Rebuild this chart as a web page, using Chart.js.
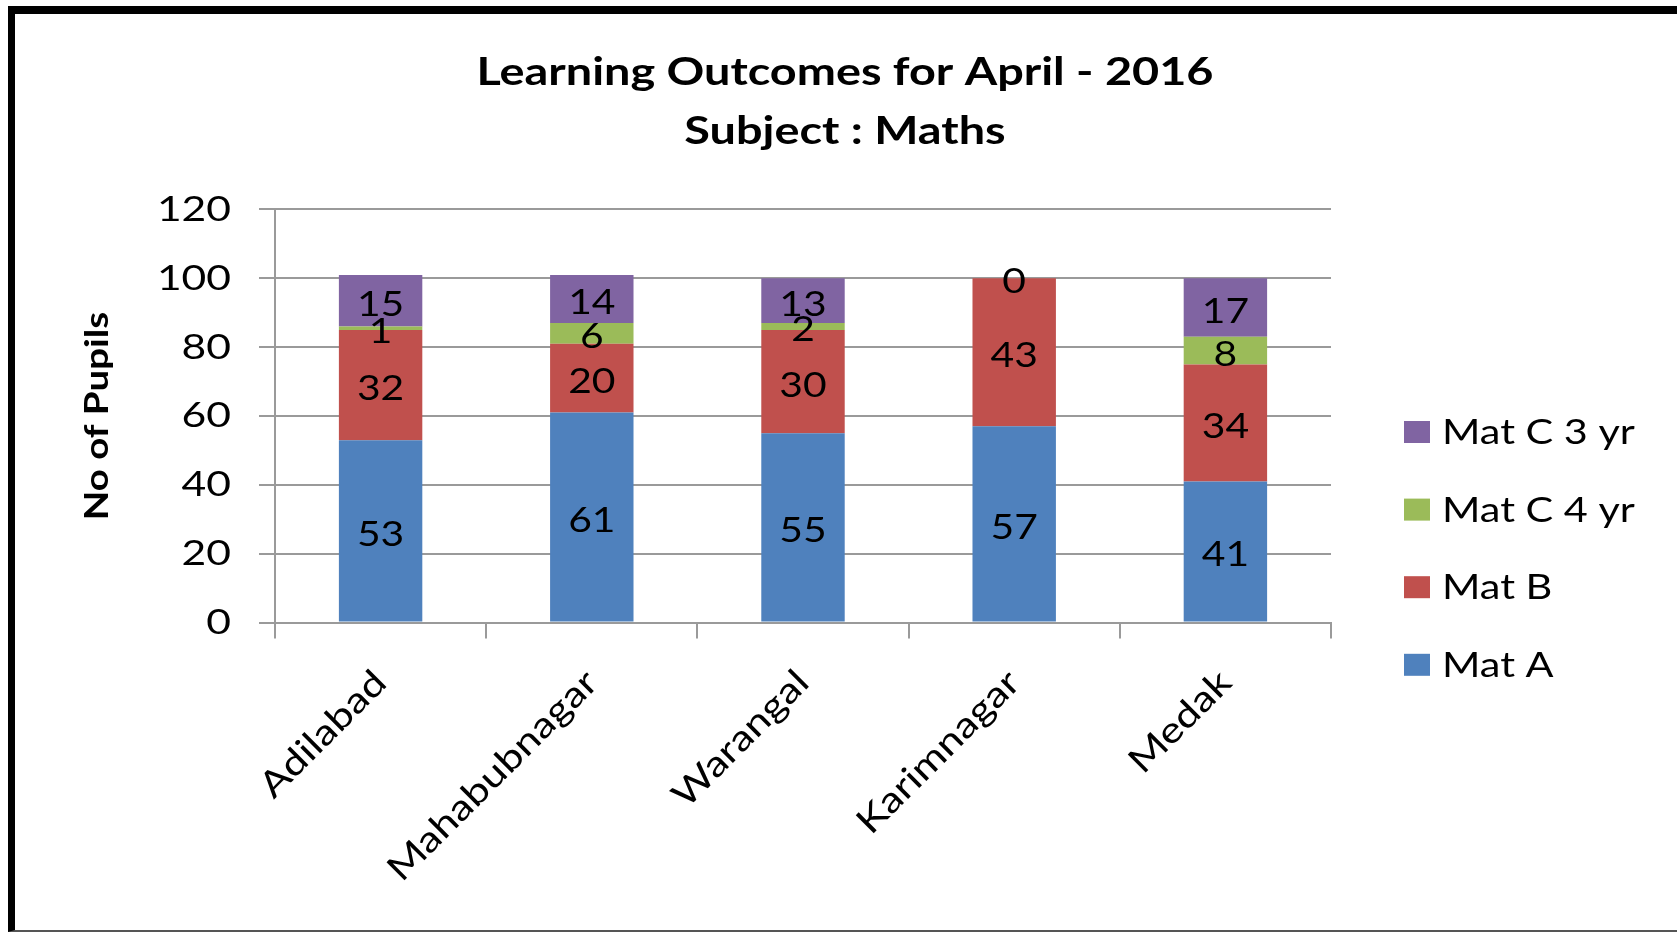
<!DOCTYPE html>
<html><head><meta charset="utf-8">
<script src="https://cdn.jsdelivr.net/npm/chart.js@4.4.1/dist/chart.umd.min.js"></script>
<style>
html,body{margin:0;padding:0;background:#fff;width:1677px;height:935px;overflow:hidden;}
#frame{position:absolute;left:8px;top:6px;width:1720px;height:926px;border-left:7px solid #000;border-top:8px solid #000;border-bottom:2px solid #555;box-sizing:border-box;}
#wrap{position:absolute;left:0;top:0;width:1677px;height:935px;}
</style></head><body>
<div id="frame"></div>
<div id="wrap"><canvas id="c" width="1677" height="935"></canvas></div>
<script>
// ---- data ----
const categories = ['Adilabad', 'Mahabubnagar', 'Warangal', 'Karimnagar', 'Medak'];
const matA  = [53, 61, 55, 57, 41];
const matB  = [32, 20, 30, 43, 34];
const matC4 = [1, 6, 2, null, 8];
const matC3 = [15, 14, 13, 0, 17];
const seriesNames  = ['Mat A', 'Mat B', 'Mat C 4 yr', 'Mat C 3 yr'];
const seriesColors = ['#4F81BD', '#C0504D', '#9BBB59', '#8064A2'];
const yTicks = [0, 20, 40, 60, 80, 100, 120];
const titleLines = ['Learning Outcomes for April - 2016', 'Subject : Maths'];
const yTitle = 'No of Pupils';

const FONT = 'Lato';

// The reference typeface is wider than Lato: widen glyphs along the text direction.
const K = 1.2;
(function () {
  const proto = CanvasRenderingContext2D.prototype;
  const origFill = proto.fillText;
  const origMeasure = proto.measureText;
  proto.fillText = function (text, x, y, maxWidth) {
    this.save();
    this.translate(x, y);
    this.scale(K, 1);
    if (maxWidth === undefined || maxWidth === null) origFill.call(this, text, 0, 0);
    else origFill.call(this, text, 0, 0, maxWidth / K);
    this.restore();
  };
  proto.measureText = function (text) {
    const m = origMeasure.call(this, text);
    return {
      width: m.width * K,
      actualBoundingBoxAscent: m.actualBoundingBoxAscent,
      actualBoundingBoxDescent: m.actualBoundingBoxDescent,
      actualBoundingBoxLeft: m.actualBoundingBoxLeft * K,
      actualBoundingBoxRight: m.actualBoundingBoxRight * K,
      fontBoundingBoxAscent: m.fontBoundingBoxAscent,
      fontBoundingBoxDescent: m.fontBoundingBoxDescent
    };
  };
})();

const dataLabelPlugin = {
  id: 'dataLabels',
  afterDatasetsDraw(chart) {
    const ctx = chart.ctx;
    ctx.save();
    ctx.font = '34px ' + FONT;
    ctx.fillStyle = '#000';
    ctx.textAlign = 'center';
    ctx.textBaseline = 'middle';
    chart.data.datasets.forEach((ds, i) => {
      const meta = chart.getDatasetMeta(i);
      meta.data.forEach((el, j) => {
        const v = ds.data[j];
        if (v === null || v === undefined) return;
        const p = el.getProps(['x', 'y', 'base'], true);
        ctx.fillText(String(v), p.x, (p.y + p.base) / 2 + 4);
      });
    });
    ctx.restore();
  }
};

const legendPlugin = {
  id: 'sideLegend',
  afterDraw(chart) {
    const ctx = chart.ctx;
    const ca = chart.chartArea;
    const x0 = ca.right + 73;
    const y0 = ca.bottom - 190.6;
    const step = 77.6;
    ctx.save();
    ctx.font = '34.5px ' + FONT;
    ctx.textAlign = 'left';
    ctx.textBaseline = 'middle';
    const ds = chart.data.datasets.slice().reverse();
    ds.forEach((d, k) => {
      const yc = y0 + k * step;
      ctx.fillStyle = d.backgroundColor;
      ctx.fillRect(x0, yc - 11, 26, 22);
      ctx.fillStyle = '#000';
      ctx.fillText(d.label, x0 + 38, yc + 1);
    });
    ctx.restore();
  }
};

function draw() {
  Chart.defaults.font.family = FONT;
  const series = [matA, matB, matC4, matC3];
  new Chart(document.getElementById('c'), {
    type: 'bar',
    data: {
      labels: categories,
      datasets: series.map((d, i) => ({
        label: seriesNames[i],
        data: d,
        backgroundColor: seriesColors[i],
        borderWidth: 0,
        categoryPercentage: 1,
        barPercentage: 0.395
      }))
    },
    options: {
      responsive: false,
      animation: false,
      layout: { padding: { left: 13, right: 0, top: 0, bottom: 0 } },
      plugins: {
        legend: { display: false },
        tooltip: { enabled: false },
        title: {
          display: true,
          text: titleLines,
          color: '#000',
          font: { family: FONT, size: 39, weight: 'bold', lineHeight: 1.51 },
          padding: { top: 43, bottom: 48.7 }
        }
      },
      scales: {
        x: {
          stacked: true,
          offset: true,
          grid: { display: true, drawOnChartArea: false, drawTicks: true, tickLength: 16, color: '#9a9a9a', lineWidth: 2, offset: true },
          border: { display: true, color: '#9a9a9a', width: 2 },
          ticks: { color: '#000', font: { size: 35.5 }, minRotation: 45, maxRotation: 45, padding: 23, autoSkip: false },
          afterFit: s => { s.height = 312.4; }
        },
        y: {
          stacked: true,
          min: 0,
          max: 120,
          afterBuildTicks: s => { s.ticks = yTicks.map(v => ({ value: v })); },
          grid: { color: '#9a9a9a', lineWidth: 2, tickLength: 16 },
          border: { display: true, color: '#9a9a9a', width: 2 },
          ticks: { color: '#000', font: { size: 35.5 }, padding: 28 },
          title: { display: true, text: yTitle, color: '#000', font: { size: 32, weight: 'bold' }, padding: { top: 65, bottom: 0 } },
          afterFit: s => { s.width = 262; }
        },
        y2: {
          position: 'right',
          display: true,
          grid: { display: false },
          border: { display: false },
          ticks: { display: false },
          afterFit: s => { s.width = 346; }
        }
      }
    },
    plugins: [dataLabelPlugin, legendPlugin]
  });
}

if (document.fonts && document.fonts.load) {
  Promise.all([document.fonts.load('36px Lato'), document.fonts.load('bold 36px Lato')]).then(draw, draw);
} else {
  draw();
}
</script>
</body></html>
